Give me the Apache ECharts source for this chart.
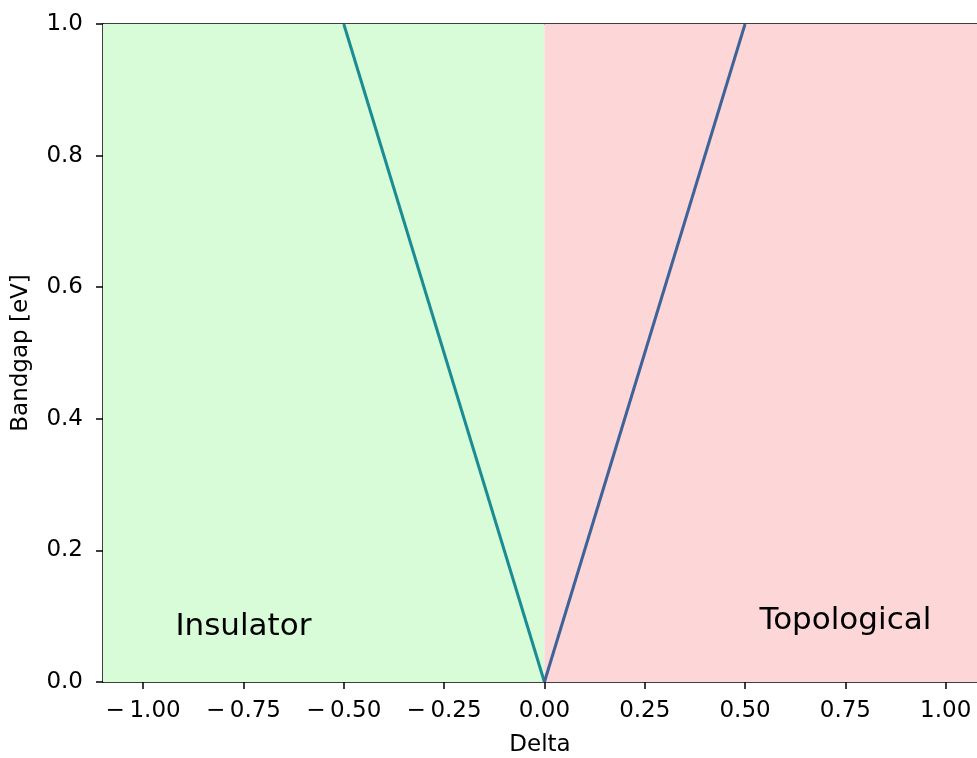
<!DOCTYPE html>
<html>
<head>
<meta charset="utf-8">
<script src="https://cdn.jsdelivr.net/npm/echarts@6/dist/echarts.min.js"></script>
<style>
html,body{margin:0;padding:0;background:#fff;}
#chart{width:977px;height:758px;}
</style>
</head>
<body>
<div id="chart"></div>
<script>
// Data
var xTicks = [-1.0, -0.75, -0.5, -0.25, 0.0, 0.25, 0.5, 0.75, 1.0];
var yTicks = [0.0, 0.2, 0.4, 0.6, 0.8, 1.0];
var insulatorLine = [[-0.5, 1.0], [0.0, 0.0]];
var topologicalLine = [[0.0, 0.0], [0.5, 1.0]];
var regionInsulator = [-1.1, 0.0];
var regionTopological = [0.0, 1.1];
var annotations = [[-0.75, 0.084, 'Insulator'], [0.75, 0.093, 'Topological']];
var xRange = [-1.1, 1.078];
var yRange = [0, 1];

var FONT = 'DejaVu Sans';
function fmtX(v) {
  var s = Math.abs(v).toFixed(2);
  return (v < -1e-9 ? '\u2212\u2009' : '') + s;
}

var chart = echarts.init(document.getElementById('chart'), null, {renderer: 'canvas'});
chart.setOption({
  animation: false,
  backgroundColor: '#ffffff',
  grid: {left: 103, right: 0, top: 24, bottom: 76, containLabel: false, outerBoundsMode: 'none'},
  xAxis: [{
    type: 'value', min: xRange[0], max: xRange[1],
    name: 'Delta', nameLocation: 'middle', nameGap: 52,
    nameTextStyle: {fontFamily: FONT, fontSize: 23, color: '#000'},
    axisLine: {show: true, onZero: false, lineStyle: {color: '#000', width: 1.5}},
    axisTick: {show: true, length: 7, lineStyle: {color: '#000', width: 1.5}, customValues: xTicks},
    axisLabel: {show: true, customValues: xTicks, formatter: fmtX, margin: 18,
      fontFamily: FONT, fontSize: 23, color: '#000'},
    splitLine: {show: false}
  }, {
    type: 'value', position: 'top', min: xRange[0], max: xRange[1],
    axisLine: {show: true, onZero: false, lineStyle: {color: '#000', width: 1.5}},
    axisTick: {show: false}, axisLabel: {show: false}, splitLine: {show: false}
  }],
  yAxis: {
    type: 'value', min: yRange[0], max: yRange[1],
    name: 'Bandgap [eV]', nameLocation: 'middle', nameGap: 70, nameRotate: 90,
    nameTextStyle: {fontFamily: FONT, fontSize: 23, color: '#000'},
    axisLine: {show: true, onZero: false, lineStyle: {color: '#000', width: 1.5}},
    axisTick: {show: true, length: 7, lineStyle: {color: '#000', width: 1.5}, customValues: yTicks},
    axisLabel: {show: true, customValues: yTicks, formatter: function (v) { return v.toFixed(1); },
      margin: 20, fontFamily: FONT, fontSize: 23, color: '#000'},
    splitLine: {show: false}
  },
  series: [
    {
      type: 'line', data: [], silent: true, z: 1,
      markArea: {
        silent: true,
        data: [
          [{xAxis: regionInsulator[0], yAxis: yRange[0], itemStyle: {color: '#d8fcd8', opacity: 1}},
           {xAxis: regionInsulator[1], yAxis: yRange[1]}],
          [{xAxis: regionTopological[0], yAxis: yRange[0], itemStyle: {color: '#fdd6d8', opacity: 1}},
           {xAxis: regionTopological[1], yAxis: yRange[1]}]
        ]
      }
    },
    {
      type: 'line', data: insulatorLine, showSymbol: false, symbol: 'none', z: 3,
      lineStyle: {color: '#1a8c93', width: 3}, silent: true
    },
    {
      type: 'line', data: topologicalLine, showSymbol: false, symbol: 'none', z: 3,
      lineStyle: {color: '#3e6399', width: 3}, silent: true
    },
    {
      type: 'scatter', symbolSize: 0, z: 4, silent: true,
      itemStyle: {opacity: 1, color: 'transparent'},
      data: annotations.map(function (a) { return {value: [a[0], a[1]], name: a[2]}; }),
      label: {show: true, position: 'inside', formatter: function (p) { return p.name; },
        fontFamily: FONT, fontSize: 31, color: '#000', opacity: 1,
        align: 'center', verticalAlign: 'middle'}
    }
  ]
});
</script>
</body>
</html>
